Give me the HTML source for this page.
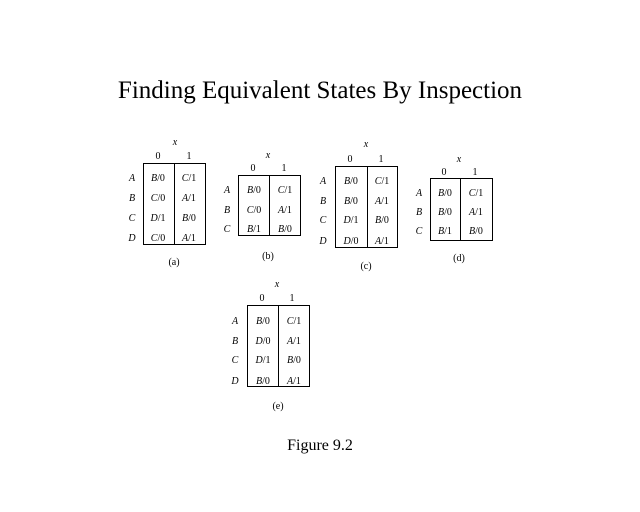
<!DOCTYPE html>
<html><head><style>body{margin:0;background:#fff}svg{display:block}</style></head><body>
<svg width="640" height="512" xmlns="http://www.w3.org/2000/svg" font-family="Liberation Serif, serif" fill="#000">
<rect width="640" height="512" fill="#fff"/>
<text x="320" y="98" font-size="25" text-anchor="middle">Finding Equivalent States By Inspection</text>
<text x="320" y="450" font-size="16" text-anchor="middle">Figure 9.2</text>
<g font-size="10" text-anchor="middle" stroke="none">
<!-- (a) -->
<g>
<rect x="143.5" y="163.5" width="62" height="81" fill="none" stroke="#000"/>
<line x1="174.5" y1="163" x2="174.5" y2="245" stroke="#000"/>
<text x="175" y="145" font-style="italic">x</text>
<text x="158" y="159">0</text><text x="189" y="159">1</text>
<g font-style="italic"><text x="132" y="181">A</text><text x="132" y="201">B</text><text x="132" y="221">C</text><text x="132" y="241">D</text></g>
<text x="158" y="181"><tspan font-style="italic">B</tspan>/0</text><text x="189" y="181"><tspan font-style="italic">C</tspan>/1</text>
<text x="158" y="201"><tspan font-style="italic">C</tspan>/0</text><text x="189" y="201"><tspan font-style="italic">A</tspan>/1</text>
<text x="158" y="221"><tspan font-style="italic">D</tspan>/1</text><text x="189" y="221"><tspan font-style="italic">B</tspan>/0</text>
<text x="158" y="241"><tspan font-style="italic">C</tspan>/0</text><text x="189" y="241"><tspan font-style="italic">A</tspan>/1</text>
<text x="174" y="265">(a)</text>
</g>
<!-- (b) -->
<g>
<rect x="238.5" y="175.5" width="62" height="60" fill="none" stroke="#000"/>
<line x1="269.5" y1="175" x2="269.5" y2="236" stroke="#000"/>
<text x="268" y="158" font-style="italic">x</text>
<text x="253" y="171">0</text><text x="284" y="171">1</text>
<g font-style="italic"><text x="227" y="193">A</text><text x="227" y="213">B</text><text x="227" y="232">C</text></g>
<text x="254" y="193"><tspan font-style="italic">B</tspan>/0</text><text x="285" y="193"><tspan font-style="italic">C</tspan>/1</text>
<text x="254" y="213"><tspan font-style="italic">C</tspan>/0</text><text x="285" y="213"><tspan font-style="italic">A</tspan>/1</text>
<text x="254" y="232"><tspan font-style="italic">B</tspan>/1</text><text x="285" y="232"><tspan font-style="italic">B</tspan>/0</text>
<text x="268" y="259">(b)</text>
</g>
<!-- (c) -->
<g>
<rect x="335.5" y="166.5" width="62" height="81" fill="none" stroke="#000"/>
<line x1="367.5" y1="166" x2="367.5" y2="248" stroke="#000"/>
<text x="366" y="147" font-style="italic">x</text>
<text x="350" y="162">0</text><text x="381" y="162">1</text>
<g font-style="italic"><text x="323" y="184">A</text><text x="323" y="204">B</text><text x="323" y="223">C</text><text x="323" y="244">D</text></g>
<text x="351" y="184"><tspan font-style="italic">B</tspan>/0</text><text x="382" y="184"><tspan font-style="italic">C</tspan>/1</text>
<text x="351" y="204"><tspan font-style="italic">B</tspan>/0</text><text x="382" y="204"><tspan font-style="italic">A</tspan>/1</text>
<text x="351" y="223"><tspan font-style="italic">D</tspan>/1</text><text x="382" y="223"><tspan font-style="italic">B</tspan>/0</text>
<text x="351" y="244"><tspan font-style="italic">D</tspan>/0</text><text x="382" y="244"><tspan font-style="italic">A</tspan>/1</text>
<text x="366" y="269">(c)</text>
</g>
<!-- (d) -->
<g>
<rect x="430.5" y="178.5" width="62" height="62" fill="none" stroke="#000"/>
<line x1="460.5" y1="178" x2="460.5" y2="241" stroke="#000"/>
<text x="459" y="162" font-style="italic">x</text>
<text x="444" y="175">0</text><text x="475" y="175">1</text>
<g font-style="italic"><text x="419" y="196">A</text><text x="419" y="215">B</text><text x="419" y="234">C</text></g>
<text x="445" y="196"><tspan font-style="italic">B</tspan>/0</text><text x="476" y="196"><tspan font-style="italic">C</tspan>/1</text>
<text x="445" y="215"><tspan font-style="italic">B</tspan>/0</text><text x="476" y="215"><tspan font-style="italic">A</tspan>/1</text>
<text x="445" y="234"><tspan font-style="italic">B</tspan>/1</text><text x="476" y="234"><tspan font-style="italic">B</tspan>/0</text>
<text x="459" y="261">(d)</text>
</g>
<!-- (e) -->
<g>
<rect x="247.5" y="305.5" width="62" height="81" fill="none" stroke="#000"/>
<line x1="278.5" y1="305" x2="278.5" y2="387" stroke="#000"/>
<text x="277" y="287" font-style="italic">x</text>
<text x="262" y="301">0</text><text x="292" y="301">1</text>
<g font-style="italic"><text x="235" y="324">A</text><text x="235" y="344">B</text><text x="235" y="363">C</text><text x="235" y="384">D</text></g>
<text x="263" y="324"><tspan font-style="italic">B</tspan>/0</text><text x="294" y="324"><tspan font-style="italic">C</tspan>/1</text>
<text x="263" y="344"><tspan font-style="italic">D</tspan>/0</text><text x="294" y="344"><tspan font-style="italic">A</tspan>/1</text>
<text x="263" y="363"><tspan font-style="italic">D</tspan>/1</text><text x="294" y="363"><tspan font-style="italic">B</tspan>/0</text>
<text x="263" y="384"><tspan font-style="italic">B</tspan>/0</text><text x="294" y="384"><tspan font-style="italic">A</tspan>/1</text>
<text x="278" y="409">(e)</text>
</g>
</g>
</svg>
</body></html>
